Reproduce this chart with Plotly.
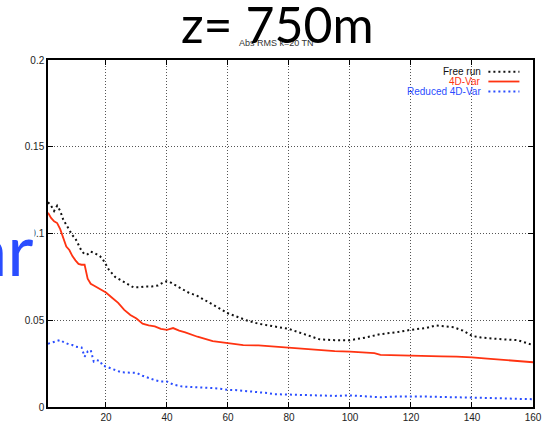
import plotly.graph_objects as go

# ---------------- data ----------------
free_x = [1,2,3,4,5,6,7,8,9,10,11,12,13,14,15,16,17,18,19,20,21,22,23,25,27,29,31,33,35,37,39,40,41,43,45,47,50,53,56,60,63,66,70,75,80,85,90,95,100,105,110,115,120,125,128,131,134,137,140,143,146,150,155,158,160]
free_y = [0.118,0.116,0.113,0.116,0.113,0.108,0.105,0.102,0.099,0.097,0.093,0.090,0.088,0.088,0.0895,0.089,0.088,0.087,0.085,0.082,0.079,0.077,0.075,0.073,0.071,0.069,0.069,0.0695,0.0695,0.070,0.072,0.0725,0.072,0.070,0.068,0.066,0.064,0.061,0.058,0.054,0.052,0.050,0.048,0.0465,0.045,0.042,0.039,0.0385,0.0385,0.040,0.042,0.043,0.0445,0.0455,0.047,0.0465,0.046,0.044,0.041,0.040,0.0395,0.039,0.0385,0.037,0.0357]

var_x = [1,2,3,4,5,6,7,8,9,10,11,12,13,14,15,16,18,20,22,24,26,28,30,32,34,36,38,40,42,44,46,50,55,60,65,70,75,80,85,90,95,100,105,108,110,115,120,125,130,135,138,140,145,150,155,160]
var_y = [0.112,0.109,0.107,0.106,0.1025,0.097,0.0925,0.0905,0.087,0.0845,0.0825,0.082,0.082,0.074,0.071,0.070,0.068,0.066,0.063,0.060,0.056,0.053,0.051,0.048,0.047,0.0465,0.045,0.0445,0.0455,0.044,0.043,0.0405,0.038,0.0367,0.0357,0.0355,0.0348,0.034,0.0333,0.0326,0.0322,0.0319,0.0315,0.031,0.030,0.0297,0.0295,0.0293,0.0292,0.029,0.029,0.0286,0.0279,0.0272,0.0265,0.0258]

red_x = [1,2,3,4,5,6,7,8,9,10,11,12,13,14,15,16,17,18,19,20,22,25,28,30,32,34,36,38,40,42,45,48,50,53,55,58,60,63,65,68,70,73,75,78,80,85,90,95,100,105,110,115,120,125,130,135,140,145,150,155,160]
red_y = [0.0365,0.037,0.0375,0.038,0.0386,0.0375,0.0367,0.036,0.0357,0.0348,0.0345,0.0343,0.029,0.032,0.0328,0.0262,0.027,0.0266,0.0237,0.0234,0.022,0.020,0.0198,0.0197,0.018,0.0166,0.0155,0.0147,0.0147,0.013,0.0118,0.0115,0.0114,0.0112,0.0109,0.0104,0.0099,0.0097,0.0094,0.009,0.0087,0.008,0.0074,0.0072,0.007,0.0068,0.0065,0.0064,0.0067,0.0062,0.0056,0.006,0.0061,0.006,0.0058,0.0057,0.0056,0.0053,0.005,0.0047,0.0045]

series_names = ["Free run", "4D-Var", "Reduced 4D-Var"]
x_ticks = [20, 40, 60, 80, 100, 120, 140, 160]
y_ticks = [0, 0.05, 0.1, 0.15, 0.2]
y_tick_text = ["0", "0.05", "0.1", "0.15", "0.2"]

BLACK = "#111111"
RED = "#ff3311"
BLUE = "#2a4dff"

fig = go.Figure()
fig.add_trace(go.Scatter(x=free_x, y=free_y, mode="lines", name=series_names[0],
                         line=dict(color=BLACK, width=2, dash="2px,3px")))
fig.add_trace(go.Scatter(x=var_x, y=var_y, mode="lines", name=series_names[1],
                         line=dict(color=RED, width=1.8)))
fig.add_trace(go.Scatter(x=red_x, y=red_y, mode="lines", name=series_names[2],
                         line=dict(color=BLUE, width=2, dash="2px,3px")))

tickfont = dict(family="Liberation Sans, Arial", size=10, color="#222")
grid = dict(showgrid=True, gridcolor="#555", griddash="1px,2px", gridwidth=1, zeroline=False)
fig.update_xaxes(range=[1, 160], tickvals=x_ticks, showline=True, linecolor="black", linewidth=1.5,
                 mirror="ticks", ticks="inside", ticklen=5, tickcolor="black", tickwidth=1,
                 tickfont=tickfont, **grid)
fig.update_yaxes(range=[0, 0.2], tickvals=y_ticks, ticktext=y_tick_text, showline=True,
                 linecolor="black", linewidth=1.5, mirror="ticks", ticks="inside", ticklen=5,
                 tickcolor="black", tickwidth=1, tickfont=tickfont, **grid)

# legend (text on left, sample on right, like the original)
colors = [BLACK, RED, BLUE]
dashes = ["dot", "solid", "dot"]
rows = [0.966, 0.938, 0.909]
annotations = []
shapes = []
for name, c, d, ry in zip(series_names, colors, dashes, rows):
    annotations.append(dict(xref="paper", yref="paper", x=0.896, y=ry, xanchor="right", yanchor="middle",
                            text=name, showarrow=False,
                            font=dict(family="Liberation Sans, Arial", size=10, color=c)))
    shapes.append(dict(type="line", xref="paper", yref="paper", x0=0.908, x1=0.972, y0=ry, y1=ry,
                       line=dict(color=c, width=2 if d == "dot" else 1.8,
                                 dash="2px,3px" if d == "dot" else "solid")))

annotations.insert(0, dict(xref="paper", yref="paper", x=0.472, y=1.049, xanchor="center", yanchor="middle",
                           text="Abs RMS k=20 TN", showarrow=False,
                           font=dict(family="Liberation Sans, Arial", size=9, color="#333")))
annotations.append(dict(xref="paper", yref="paper", x=0.474, y=1.104, xanchor="center", yanchor="middle",
                        text="z= 750m", showarrow=False,
                        font=dict(family="Lato", size=50, color="black")))
annotations.append(dict(xref="paper", yref="paper", x=-0.0277, y=0.458, xanchor="right", yanchor="middle",
                        text="4D-Var", showarrow=False, bgcolor="white",
                        font=dict(family="Lato", size=72, color=BLUE)))

fig.update_layout(width=552, height=433, margin=dict(l=48, r=10, t=60, b=24),
                  paper_bgcolor="white", plot_bgcolor="white", showlegend=False,
                  annotations=annotations, shapes=shapes)

fig.write_html("out.html")
